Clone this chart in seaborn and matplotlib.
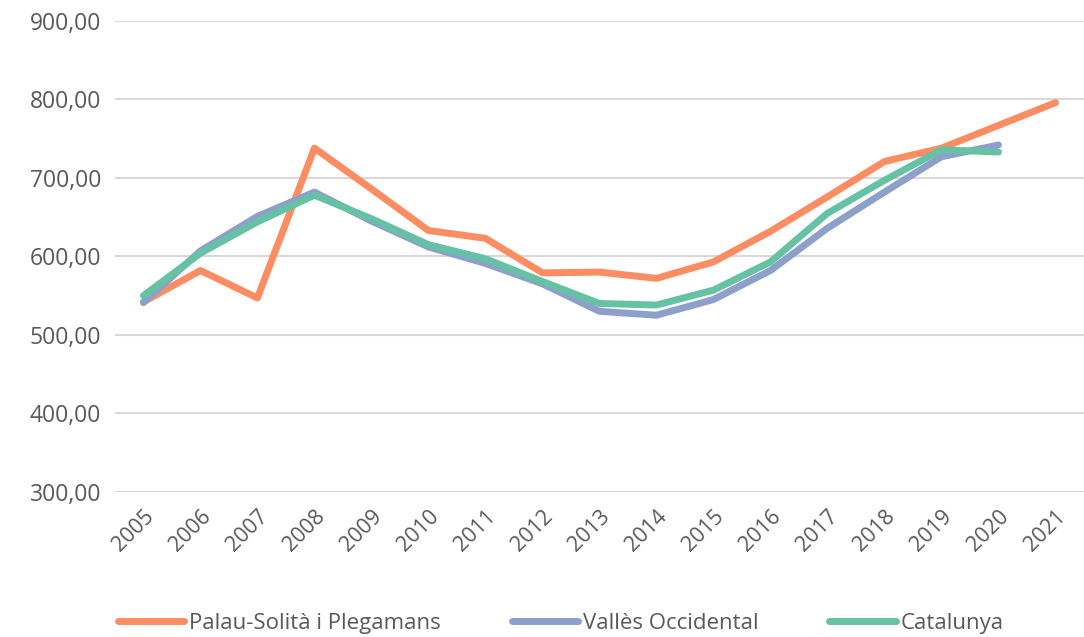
import numpy as np
import pandas as pd
import matplotlib
matplotlib.use("Agg")
import matplotlib.pyplot as plt
import seaborn as sns

# DATA
years = [str(y) for y in range(2005, 2022)]
palau = [542, 582, 547, 738, 686, 633, 623, 579, 580, 572, 593, 632, 676, 721, 738, 767, 796]
valles = [541, 607, 651, 682, 645, 612, 591, 565, 530, 525, 545, 582, 636, 682, 727, 742, np.nan]
catalunya = [550, 604, 644, 678, 648, 615, 597, 568, 540, 538, 557, 593, 655, 697, 736, 733, np.nan]
series_names = ["Palau-Solità i Plegamans", "Vallès Occidental", "Catalunya"]
colors = ["#fc8d62", "#8da0cb", "#66c2a5"]

df = pd.DataFrame({
    "year": years * 3,
    "value": palau + valles + catalunya,
    "serie": [series_names[0]] * 17 + [series_names[1]] * 17 + [series_names[2]] * 17,
})

# CONFIG
sns.set_theme(style="white")
plt.rcParams["font.family"] = ["Open Sans", "DejaVu Sans"]

fig = plt.figure(figsize=(10.84, 6.37), dpi=100)
ax = fig.add_axes([0.106, 0.228, 0.894, 0.739])

sns.lineplot(data=df, x="year", y="value", hue="serie", palette=colors,
             linewidth=5, ax=ax, sort=False)

ax.set_xlim(-0.5, 16.5)
ax.set_ylim(300, 900)
ax.set_yticks(range(300, 1000, 100))
ax.set_yticklabels([f"{v},00" for v in range(300, 1000, 100)], fontsize=16.5, color="#595959")
ax.set_xticks(range(len(years)))
ax.set_xticklabels(years, rotation=45, fontsize=15.5, color="#595959",
                   ha="right", rotation_mode="anchor")
ax.tick_params(axis="y", length=0, pad=10)
ax.tick_params(axis="x", length=0, pad=10)
ax.set_xlabel("")
ax.set_ylabel("")
ax.yaxis.grid(True, color="#d9d9d9", linewidth=1.5)
ax.set_axisbelow(True)
for s in ax.spines.values():
    s.set_visible(False)

ax.legend(loc="lower center", bbox_to_anchor=(0.46, -0.345), ncol=3, frameon=False,
          fontsize=16, labelcolor="#595959", handlelength=3.0, handletextpad=0.2,
          columnspacing=3.2)

fig.savefig("out.png", dpi=100)
